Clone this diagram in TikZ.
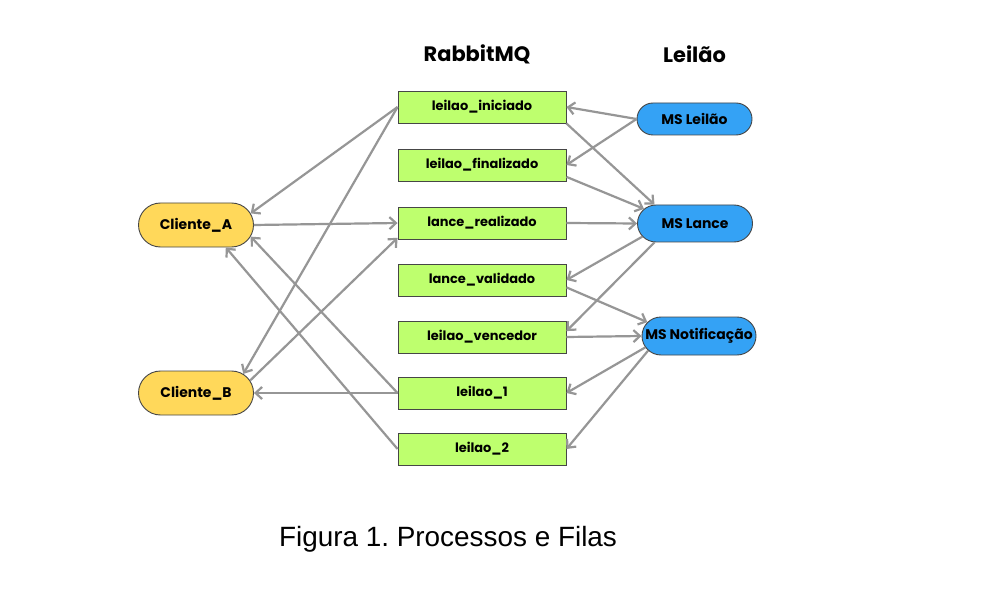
\documentclass[tikz,border=0pt]{standalone}
\usepackage{fontspec}
\setmainfont{Liberation Sans}
\newfontfamily\pop{Poppins}
\usetikzlibrary{shapes.misc,arrows.meta}
\definecolor{qgreen}{RGB}{190,255,110}
\definecolor{cyellow}{RGB}{255,216,90}
\definecolor{msblue}{RGB}{52,162,245}
\definecolor{edgegray}{RGB}{150,150,150}
\definecolor{bordergray}{RGB}{70,70,70}
\tikzset{
  queue/.style={draw=bordergray, line width=0.9bp, fill=qgreen, rectangle,
    minimum width=168bp, minimum height=32bp, inner sep=0pt,
    font=\pop\bfseries\fontsize{13}{15}\selectfont},
  client/.style={draw=bordergray, line width=0.9bp, fill=cyellow, rounded rectangle,
    minimum width=115bp, minimum height=44bp, inner sep=0pt,
    font=\pop\bfseries\fontsize{14}{16}\selectfont},
  ms/.style={draw=bordergray, line width=0.9bp, fill=msblue, rounded rectangle,
    minimum width=115bp, inner sep=0pt,
    font=\pop\bfseries\fontsize{14}{16}\selectfont},
  title/.style={font=\pop\bfseries\fontsize{21}{24}\selectfont, inner sep=0pt},
  conn/.style={draw=edgegray, line width=2.2bp,
    -{Straight Barb[length=6.5bp,width=12bp,line width=2.2bp]}},
}
\frenchspacing
\begin{document}
\begin{tikzpicture}[x=1bp,y=-1bp]
\useasboundingbox[fill=white] (0,0) rectangle (1008,591);

\node[title] (trm) at (477,54) {RabbitMQ};
\node[title] (tle) at (694.5,54) {Leilão};

\node[queue] (li)   at (482,107) {leilao\_iniciado};
\node[queue] (lf)   at (482,165) {leilao\_finalizado};
\node[queue] (lr)   at (482,223) {lance\_realizado};
\node[queue] (lv)   at (482,280) {lance\_validado};
\node[queue] (lven) at (482,337) {leilao\_vencedor};
\node[queue] (l1)   at (482,393) {leilao\_1};
\node[queue] (l2)   at (482,449) {leilao\_2};

\node[client] (ca) at (196,225) {Cliente\_A};
\node[client] (cb) at (196,393) {Cliente\_B};

\node[ms, minimum height=32bp] (mle) at (694.5,119) {MS Leilão};
\node[ms, minimum height=37bp] (mla) at (695,223.5) {MS Lance};
\node[ms, minimum height=38bp, minimum width=114bp] (mno) at (699,336) {MS Notificação};

% left side
\draw[conn] (li.west) -- (ca.12);
\draw[conn] (li.west) -- (cb.22);
\draw[conn] (ca.east) -- (lr.west);
\draw[conn] (cb.13) -- (lr.190);
\draw[conn] (l1.west) -- (cb.east);
\draw[conn] (l1.west) -- (ca.-12);
\draw[conn] (l2.west) -- (ca.-37);

% right side
\draw[conn] (mle.west) -- (li.east);
\draw[conn] (mle.west) -- (lf.east);
\draw[conn] (li.south east) -- (mla.155);
\draw[conn] (lf.-8) -- (mla.164);
\draw[conn] (lr.east) -- (mla.west);
\draw[conn] (mla.194) -- (lv.east);
\draw[conn] (mla.205) -- (lven.4);
\draw[conn] (lv.-5) -- (mno.165);
\draw[conn] (lven.east) -- (mno.west);
\draw[conn] (mno.192) -- (l1.east);
\draw[conn] (mno.196) -- (l2.east);

\node[font=\fontsize{28}{32}\selectfont, anchor=base, inner sep=0pt] (cap) at (448,546) {Figura 1. Processos e Filas};
\end{tikzpicture}
\end{document}
